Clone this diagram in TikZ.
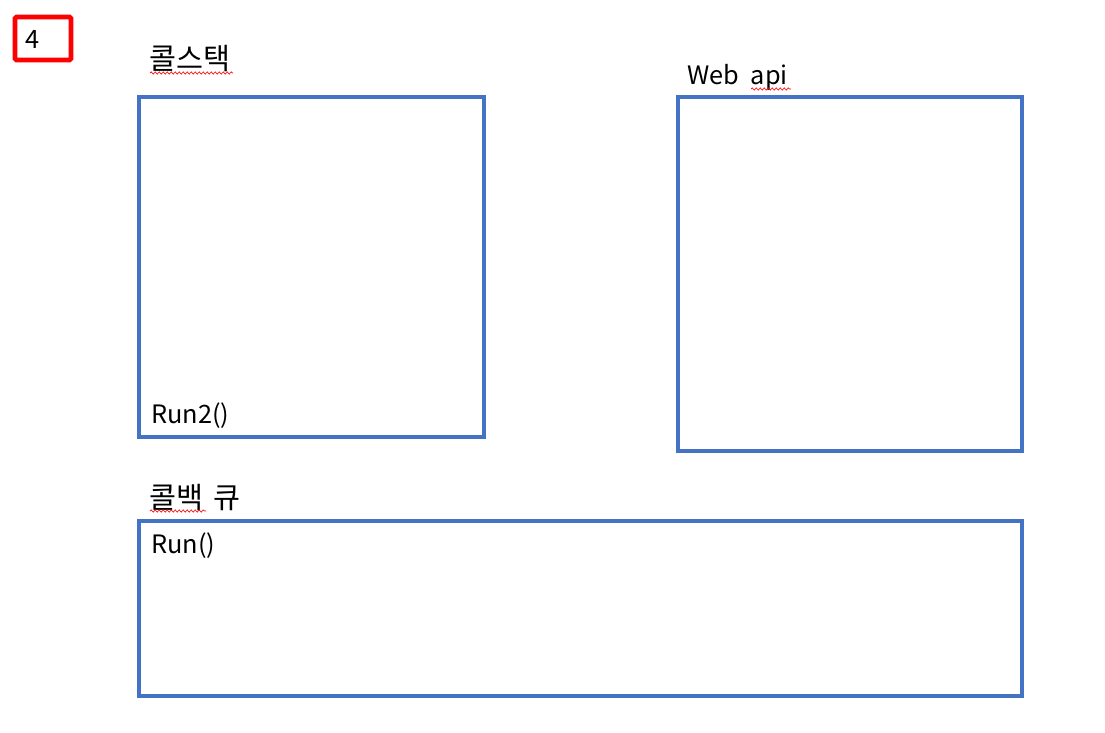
\documentclass[tikz,border=0pt]{standalone}
\usepackage{fontspec}
\setmainfont{Noto Sans CJK KR}
\usetikzlibrary{decorations.pathmorphing}
\definecolor{boxblue}{HTML}{4472C4}
\definecolor{boxred}{HTML}{FF0000}
\begin{document}
\begin{tikzpicture}[x=0.75pt,y=-0.75pt,
  bluebox/.style={draw=boxblue,line width=3pt,inner sep=0pt},
  redbox/.style={draw=boxred,line width=3.5pt,rounded corners=1pt,inner sep=0pt},
  lbl/.style={anchor=base west,inner sep=0pt,font=\fontsize{19pt}{22pt}\selectfont},
  klbl/.style={anchor=base west,inner sep=0pt,font=\fontsize{22pt}{25pt}\selectfont},
  spell/.style={draw=boxred,line width=0.5pt,decorate,decoration={snake,amplitude=0.8pt,segment length=3pt}}]
\useasboundingbox[fill=white] (0,0) rectangle (1105,732);
% boxes
\node[redbox,minimum width=42pt,minimum height=32.25pt] (numbox) at (43,38.5) {};
\node[bluebox,minimum width=258.75pt,minimum height=255pt] (stackbox) at (311.5,267) {};
\node[bluebox,minimum width=258pt,minimum height=265.5pt] (apibox) at (850,274) {};
\node[bluebox,minimum width=662.25pt,minimum height=131.25pt] (queuebox) at (580.5,608.5) {};
% labels
\node[lbl] (num) at (25,48) {4};
\node[klbl] (stack) at (149,69) {콜스택};
\node[lbl] (webapi) at (687,84) {Web\hspace{4.5pt} api};
\node[lbl] (run2) at (151,423) {Run2()};
\node[klbl] (queue) at (149,508) {콜백\hspace{3pt} 큐};
\node[lbl] (run) at (151,553) {Run()};
% spell-check underlines
\coordinate (s1a) at (150,73); \coordinate (s1b) at (233,73);
\coordinate (s2a) at (751,89); \coordinate (s2b) at (791,89);
\coordinate (s3a) at (150,511); \coordinate (s3b) at (206,511);
\draw[spell] (s1a) -- (s1b);
\draw[spell] (s2a) -- (s2b);
\draw[spell] (s3a) -- (s3b);
\end{tikzpicture}
\end{document}
